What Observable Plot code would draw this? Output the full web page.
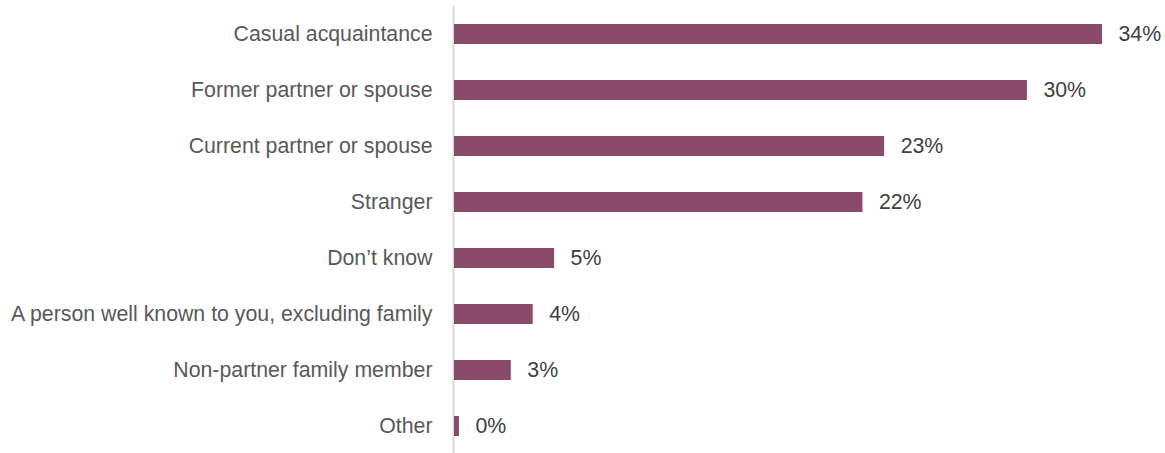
<!DOCTYPE html>
<html>
<head>
<meta charset="utf-8">
<script src="https://cdn.jsdelivr.net/npm/d3@7"></script>
<script src="https://cdn.jsdelivr.net/npm/@observablehq/plot@0.6"></script>
<style>
  html, body { margin: 0; padding: 0; background: #fff; }
</style>
</head>
<body>
<div id="chart"></div>
<script>
const categories = [
  "Casual acquaintance",
  "Former partner or spouse",
  "Current partner or spouse",
  "Stranger",
  "Don\u2019t know",
  "A person well known to you, excluding family",
  "Non-partner family member",
  "Other"
];
const values = [34.0, 30.06, 22.57, 21.43, 5.25, 4.13, 2.98, 0.26];
const labels = ["34%", "30%", "23%", "22%", "5%", "4%", "3%", "0%"];

const data = categories.map((c, i) => ({cat: c, value: values[i], label: labels[i]}));

const chart = Plot.plot({
  width: 1165,
  height: 453,
  marginLeft: 454,
  marginRight: 63,
  marginTop: 6,
  marginBottom: 0,
  style: {fontFamily: "'Liberation Sans', Arial, Helvetica, sans-serif", background: "#fff"},
  x: {domain: [0, 34], axis: null},
  y: {domain: categories, paddingInner: 0.65, paddingOuter: 0.3025, align: 0.5, axis: null},
  marks: [
    Plot.ruleX([0], {stroke: "#d9d9d9", strokeWidth: 2, dx: -1}),
    Plot.barX(data, {x: "value", y: "cat", fill: "#8c4a6a"}),
    Plot.axisY({tickSize: 0, tickPadding: 22, fontSize: 21.3, fill: "#595959", label: null}),
    Plot.text(data, {x: "value", y: "cat", text: "label", dx: 16, textAnchor: "start", fontSize: 21.3, fill: "#404040"})
  ]
});
document.getElementById("chart").appendChild(chart);
</script>
</body>
</html>
